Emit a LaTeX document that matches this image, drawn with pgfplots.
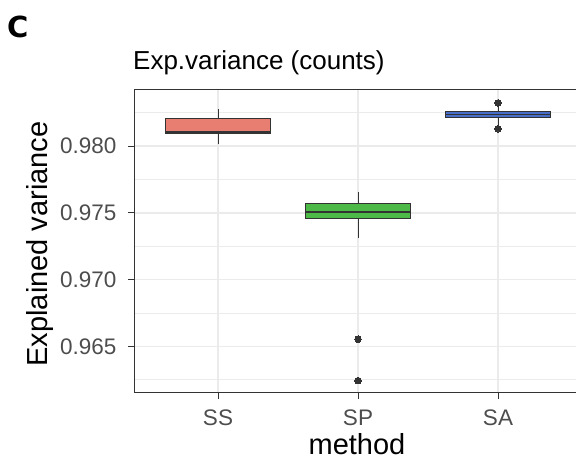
\documentclass[border=0pt]{standalone}
\usepackage{fontspec}
\setmainfont{Liberation Sans}
\newfontfamily\dejabold{DejaVu Sans}
\usepackage{pgfplots}
\pgfplotsset{compat=1.18}
\usepgfplotslibrary{statistics}
\definecolor{ssfill}{RGB}{232,125,114}
\definecolor{spfill}{RGB}{77,185,70}
\definecolor{safill}{RGB}{72,110,200}
\definecolor{gridc}{RGB}{235,235,235}
\definecolor{edge}{RGB}{51,51,51}
\definecolor{ticklab}{RGB}{77,77,77}
% y values stored as (explained variance - 0.96) * 1000
\begin{document}
\begin{tikzpicture}
\path[use as bounding box, clip] (0pt,0pt) rectangle (576pt,466pt);
\begin{axis}[
  at={(134pt,73pt)}, anchor=south west,
  scale only axis, width=448pt, height=303pt,
  xmin=0.4, xmax=3.6, ymin=1.5, ymax=24.2,
  xtick={1,2,3}, xticklabels={SS,SP,SA},
  ytick={5,10,15,20}, yticklabels={0.965,0.970,0.975,0.980},
  minor ytick={2.5,7.5,12.5,17.5,22.5},
  grid=both,
  major grid style={gridc, line width=1.4pt},
  minor grid style={gridc, line width=0.8pt},
  axis line style={edge, line width=1pt},
  tick style={edge, line width=1pt},
  tick align=outside, major tick length=6pt, minor tick length=0pt,
  tick pos=left,
  tick label style={font=\fontsize{22.5}{26}\selectfont, text=ticklab},
  xticklabel style={yshift=-7pt},
  yticklabel style={xshift=-8pt},
  axis background/.style={fill=white},
  boxplot/draw direction=y,
]
\addplot+[boxplot prepared={draw direction=y, median=21.03, upper quartile=22.10, lower quartile=20.92,
   upper whisker=22.75, lower whisker=20.13, draw position=1, box extend=0.75,
   whisker extend=0, every median/.style={line width=2.2pt}},
   solid, fill=ssfill, draw=edge, line width=1pt, mark=none] coordinates {};
\addplot+[boxplot prepared={draw direction=y, median=15.07, upper quartile=15.73, lower quartile=14.60,
   upper whisker=16.57, lower whisker=13.12, draw position=2, box extend=0.75,
   whisker extend=0, every median/.style={line width=2.2pt}},
   solid, fill=spfill, draw=edge, line width=1pt, mark=*, mark size=3.3pt,
   mark options={solid, fill=edge, draw=edge, line width=0pt}]
   table[row sep=\\, y index=0] {data\\ 5.53\\ 2.43\\};
\addplot+[boxplot prepared={draw direction=y, median=22.35, upper quartile=22.57, lower quartile=22.13,
   upper whisker=23.00, lower whisker=21.45, draw position=3, box extend=0.75,
   whisker extend=0, every median/.style={line width=1.6pt}},
   solid, fill=safill, draw=edge, line width=0.9pt, mark=*, mark size=3.3pt,
   mark options={solid, fill=edge, draw=edge, line width=0pt}]
   table[row sep=\\, y index=0] {data\\ 23.23\\ 21.30\\};
\end{axis}
\node[font=\dejabold\bfseries\fontsize{29}{34}\selectfont, anchor=base west, inner sep=0pt] at (7pt,428pt) {C};
\node[font=\fontsize{26}{30}\selectfont, anchor=base west, inner sep=0pt] at (133pt,396pt) {Exp.variance (counts)};
\node[font=\fontsize{29}{34}\selectfont, anchor=base, inner sep=0pt] at (357pt,11pt) {method};
\node[font=\fontsize{29}{34}\selectfont, anchor=base, rotate=90, inner sep=0pt] at (47pt,222pt) {Explained variance};
\end{tikzpicture}
\end{document}
